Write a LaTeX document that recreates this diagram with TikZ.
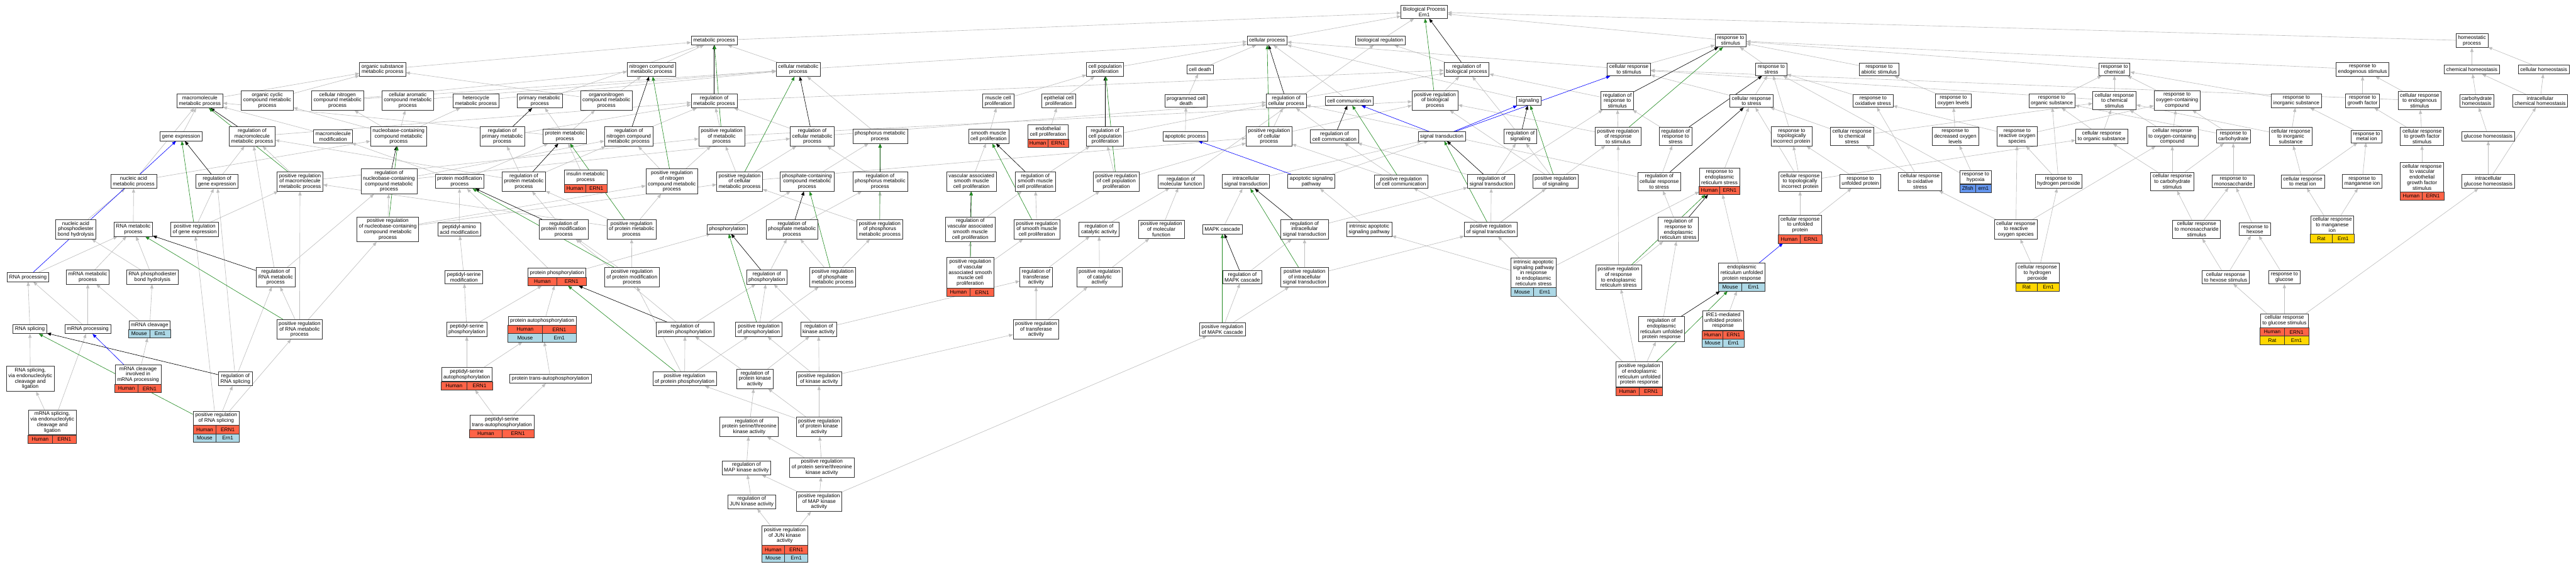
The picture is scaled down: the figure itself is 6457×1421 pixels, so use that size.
\documentclass[tikz,border=0pt]{standalone}
\usepackage{fontspec}
\setmainfont{Liberation Sans}
\usetikzlibrary{arrows.meta,calc,fit,backgrounds}
\definecolor{human}{RGB}{255,99,71}
\definecolor{mouse}{RGB}{173,216,230}
\definecolor{rat}{RGB}{255,215,0}
\definecolor{zfish}{RGB}{100,149,237}
\definecolor{isagray}{RGB}{190,190,190}
\definecolor{posgreen}{RGB}{34,139,34}
\tikzset{
  term/.style={draw=black!80,line width=1.1pt,fill=white,align=center,inner xsep=5pt,inner ysep=4.6pt,minimum height=22.5pt},
  cell/.style={draw=black!80,line width=1.1pt,inner sep=0pt,outer sep=0pt,minimum height=21pt},
  hull/.style={inner sep=0pt,outer sep=0pt},
  isaedge/.style={draw=isagray,line width=1pt,-{Triangle[length=10pt,width=8pt]}},
  regedge/.style={isaedge,draw=black},
  posedge/.style={isaedge,draw=posgreen},
  partedge/.style={isaedge,draw=blue}
}
\newcommand\genes[5]{%
  \path let \p1=($(#1.east)-(#1.west)$) in
    node[cell,fill=#3,minimum width=0.5*\x1,anchor=north west] (#1#2a) at ([yshift=-(#2-1)*21pt]#1.south west) {#4}
    node[cell,fill=#3,minimum width=0.5*\x1,anchor=north east] (#1#2b) at ([yshift=-(#2-1)*21pt]#1.south east) {#5};}
\begin{document}
\begin{tikzpicture}[x=1pt,y=-1pt,font=\fontsize{13}{13.8}\selectfont]
\useasboundingbox (0,0) rectangle (6457,1421);
\node[term] (root) at (3570,30) {Biological Process\\Ern1};
\node[term] (mp) at (1790,101.5) {metabolic process};
\node[term] (cp) at (3176,101.5) {cellular process};
\node[term] (breg) at (3460,101.5) {biological regulation};
\node[term] (rs) at (4338,102) {response to\\stimulus};
\node[term] (hp) at (6196,102) {homeostatic\\process};
\node[term] (osmp) at (959,174) {organic substance\\metabolic process};
\node[term] (ncmp) at (1633,174) {nitrogen compound\\metabolic process};
\node[term] (cmp) at (2001,174) {cellular metabolic\\process};
\node[term] (cpp) at (2770,174) {cell population\\proliferation};
\node[term] (cd) at (3008,174) {cell death};
\node[term] (rbp) at (3676,174) {regulation of\\biological process};
\node[term] (crs) at (4083,174) {cellular response\\to stimulus};
\node[term] (rst) at (4440,174) {response to\\stress};
\node[term] (ras) at (4710,174) {response to\\abiotic stimulus};
\node[term] (rch) at (5300,174) {response to\\chemical};
\node[term] (res) at (5922,174) {response to\\endogenous stimulus};
\node[term] (chh) at (6196,174) {chemical homeostasis};
\node[term] (ch) at (6376,174) {cellular homeostasis};
\node[term] (mmp) at (501,253) {macromolecule\\metabolic process};
\node[term] (occmp) at (670,252) {organic cyclic\\compound metabolic\\process};
\node[term] (cncmp) at (846,252) {cellular nitrogen\\compound metabolic\\process};
\node[term] (cacmp) at (1022,252) {cellular aromatic\\compound metabolic\\process};
\node[term] (hmp) at (1193,253) {heterocycle\\metabolic process};
\node[term] (pmp) at (1353,253) {primary metabolic\\process};
\node[term] (oncmp) at (1520,252) {organonitrogen\\compound metabolic\\process};
\node[term] (rmp) at (1790,253) {regulation of\\metabolic process};
\node[term] (mcp) at (2502,253) {muscle cell\\proliferation};
\node[term] (ecp) at (2654,253) {epithelial cell\\proliferation};
\node[term] (pcd) at (2973,253) {programmed cell\\death};
\node[term] (rcp) at (3224,253) {regulation of\\cellular process};
\node[term] (ccom) at (3382,253) {cell communication};
\node[term] (prbp) at (3597,252) {positive regulation\\of biological\\process};
\node[term] (sig) at (3832,253) {signaling};
\node[term] (rrs) at (4054,252) {regulation of\\response to\\stimulus};
\node[term] (crst) at (4390,253) {cellular response\\to stress};
\node[term] (ros) at (4695,253) {response to\\oxidative stress};
\node[term] (rol) at (4896,253) {response to\\oxygen levels};
\node[term] (rorg) at (5143,253) {response to\\organic substance};
\node[term] (crch) at (5300,252) {cellular response\\to chemical\\stimulus};
\node[term] (rocc) at (5457,252) {response to\\oxygen-containing\\compound};
\node[term] (ris) at (5756,253) {response to\\inorganic substance};
\node[term] (rgf) at (5922,253) {response to\\growth factor};
\node[term] (cres) at (6065,252) {cellular response\\to endogenous\\stimulus};
\node[term] (carbh) at (6208,253) {carbohydrate\\homeostasis};
\node[term] (ichh) at (6367,253) {intracellular\\chemical homeostasis};
\node[term] (ge) at (454,342) {gene expression};
\node[term] (rmmp) at (632,342) {regulation of\\macromolecule\\metabolic process};
\node[term] (mm) at (835,342) {macromolecule\\modification};
\node[term] (nbmp) at (999,342) {nucleobase-containing\\compound metabolic\\process};
\node[term] (rpmp) at (1259,342) {regulation of\\primary metabolic\\process};
\node[term] (prmp) at (1416,342) {protein metabolic\\process};
\node[term] (rncmp) at (1576,342) {regulation of\\nitrogen compound\\metabolic process};
\node[term] (prmetp) at (1809,342) {positive regulation\\of metabolic\\process};
\node[term] (rcmp) at (2036,342) {regulation of\\cellular metabolic\\process};
\node[term] (phmp) at (2206,342) {phosphorus metabolic\\process};
\node[term] (smcp) at (2478,342) {smooth muscle\\cell proliferation};
\node[term] (endcpT) at (2627,331) {endothelial\\cell proliferation};
\genes{endcpT}{1}{human}{Human}{ERN1}
\node[hull,fit=(endcpT)(endcpT1b)] (endcp) {};
\node[term] (rcpp) at (2770,342) {regulation of\\cell population\\proliferation};
\node[term] (ap) at (2971,342) {apoptotic process};
\node[term] (prcp) at (3181,342) {positive regulation\\of cellular\\process};
\node[term] (rccom) at (3345,342) {regulation of\\cell communication};
\node[term] (st) at (3614,342) {signal transduction};
\node[term] (rsig) at (3811,342) {regulation of\\signaling};
\node[term] (prrs) at (4056,342) {positive regulation\\of response\\to stimulus};
\node[term] (rrst) at (4200,342) {regulation of\\response to\\stress};
\node[term] (rtip) at (4491,342) {response to\\topologically\\incorrect protein};
\node[term] (crcs) at (4642,342) {cellular response\\to chemical\\stress};
\node[term] (rdol) at (4901,342) {response to\\decreased oxygen\\levels};
\node[term] (rros) at (5056,342) {response to\\reactive oxygen\\species};
\node[term] (cros) at (5268,342) {cellular response\\to organic substance};
\node[term] (croc) at (5445,342) {cellular response\\to oxygen-containing\\compound};
\node[term] (rcarb) at (5598,342) {response to\\carbohydrate};
\node[term] (cris) at (5742,342) {cellular response\\to inorganic\\substance};
\node[term] (rmi) at (5932,342) {response to\\metal ion};
\node[term] (crgf) at (6071,342) {cellular response\\to growth factor\\stimulus};
\node[term] (gh) at (6237,342) {glucose homeostasis};
\node[term] (namp) at (335,455) {nucleic acid\\metabolic process};
\node[term] (rge) at (544,455) {regulation of\\gene expression};
\node[term] (prmmp) at (752,455) {positive regulation\\of macromolecule\\metabolic process};
\node[term] (rnbmp) at (975,455) {regulation of\\nucleobase-containing\\compound metabolic\\process};
\node[term] (pmod) at (1152,455) {protein modification\\process};
\node[term] (rprmp) at (1313,455) {regulation of\\protein metabolic\\process};
\node[term] (insmT) at (1468,444.5) {insulin metabolic\\process};
\genes{insmT}{1}{human}{Human}{ERN1}
\node[hull,fit=(insmT)(insmT1b)] (insm) {};
\node[term] (prncmp) at (1684,455) {positive regulation\\of nitrogen\\compound metabolic\\process};
\node[term] (prcmp) at (1854,455) {positive regulation\\of cellular\\metabolic process};
\node[term] (pccmp) at (2023,455) {phosphate-containing\\compound metabolic\\process};
\node[term] (rphmp) at (2206,455) {regulation of\\phosphorus metabolic\\process};
\node[term] (vsmcp) at (2435,455) {vascular associated\\smooth muscle\\cell proliferation};
\node[term] (rsmcp) at (2595,455) {regulation of\\smooth muscle\\cell proliferation};
\node[term] (prcpp) at (2798,455) {positive regulation\\of cell population\\proliferation};
\node[term] (rmf) at (2960,455) {regulation of\\molecular function};
\node[term] (ist) at (3123,455) {intracellular\\signal transduction};
\node[term] (asp) at (3287,455) {apoptotic signaling\\pathway};
\node[term] (prccom) at (3512,455) {positive regulation\\of cell communication};
\node[term] (rsigt) at (3738,455) {regulation of\\signal transduction};
\node[term] (prsig) at (3899,455) {positive regulation\\of signaling};
\node[term] (rcrst) at (4159,455) {regulation of\\cellular response\\to stress};
\node[term] (rersT) at (4310,444) {response to\\endoplasmic\\reticulum stress};
\genes{rersT}{1}{human}{Human}{ERN1}
\node[hull,fit=(rersT)(rersT1b)] (rers) {};
\node[term] (ctip) at (4512,455) {cellular response\\to topologically\\incorrect protein};
\node[term] (rup) at (4663,455) {response to\\unfolded protein};
\node[term] (crox) at (4813,455) {cellular response\\to oxidative\\stress};
\node[term] (rhypT) at (4952,444.5) {response to\\hypoxia};
\genes{rhypT}{1}{zfish}{Zfish}{ern1}
\node[hull,fit=(rhypT)(rhypT1b)] (rhyp) {};
\node[term] (rhp) at (5160,455) {response to\\hydrogen peroxide};
\node[term] (crcarb) at (5445,455) {cellular response\\to carbohydrate\\stimulus};
\node[term] (rmono) at (5598,455) {response to\\monosaccharide};
\node[term] (crmi) at (5772,455) {cellular response\\to metal ion};
\node[term] (rmn) at (5921,455) {response to\\manganese ion};
\node[term] (crvegfT) at (6071,444) {cellular response\\to vascular\\endothelial\\growth factor\\stimulus};
\genes{crvegfT}{1}{human}{Human}{ERN1}
\node[hull,fit=(crvegfT)(crvegfT1b)] (crvegf) {};
\node[term] (igh) at (6237,455) {intracellular\\glucose homeostasis};
\node[term] (napb) at (190,575) {nucleic acid\\phosphodiester\\bond hydrolysis};
\node[term] (rnamp) at (334,575) {RNA metabolic\\process};
\node[term] (prge) at (488,575) {positive regulation\\of gene expression};
\node[term] (prnbmp) at (972,575) {positive regulation\\of nucleobase-containing\\compound metabolic\\process};
\node[term] (paam) at (1151,575) {peptidyl-amino\\acid modification};
\node[term] (rpmod) at (1413,575) {regulation of\\protein modification\\process};
\node[term] (prprmp) at (1583,575) {positive regulation\\of protein metabolic\\process};
\node[term] (phos) at (1823,575) {phosphorylation};
\node[term] (rphamp) at (1985,575) {regulation of\\phosphate metabolic\\process};
\node[term] (prphmp) at (2205,575) {positive regulation\\of phosphorus\\metabolic process};
\node[term] (rvsmcp) at (2432,575) {regulation of\\vascular associated\\smooth muscle\\cell proliferation};
\node[term] (prsmcp) at (2599,575) {positive regulation\\of smooth muscle\\cell proliferation};
\node[term] (rca) at (2755,575) {regulation of\\catalytic activity};
\node[term] (prmf) at (2911,575) {positive regulation\\of molecular\\function};
\node[term] (mapk) at (3064,575) {MAPK cascade};
\node[term] (rist) at (3270,575) {regulation of\\intracellular\\signal transduction};
\node[term] (iasp) at (3432,575) {intrinsic apoptotic\\signaling pathway};
\node[term] (prsigt) at (3737,575) {positive regulation\\of signal transduction};
\node[term] (rrers) at (4207,575) {regulation of\\response to\\endoplasmic\\reticulum stress};
\node[term] (cupT) at (4512,564) {cellular response\\to unfolded\\protein};
\genes{cupT}{1}{human}{Human}{ERN1}
\node[hull,fit=(cupT)(cupT1b)] (cup) {};
\node[term] (crros) at (5053,575) {cellular response\\to reactive\\oxygen species};
\node[term] (crmono) at (5506,575) {cellular response\\to monosaccharide\\stimulus};
\node[term] (rhex) at (5652,575) {response to\\hexose};
\node[term] (crmnT) at (5846,564) {cellular response\\to manganese\\ion};
\genes{crmnT}{1}{rat}{Rat}{Ern1}
\node[hull,fit=(crmnT)(crmnT1b)] (crmn) {};
\node[term] (rnap) at (70,695) {RNA processing};
\node[term] (mrnamp) at (220,695) {mRNA metabolic\\process};
\node[term] (rnapb) at (382,695) {RNA phosphodiester\\bond hydrolysis};
\node[term] (rrnamp) at (691,695) {regulation of\\RNA metabolic\\process};
\node[term] (psm) at (1163,695) {peptidyl-serine\\modification};
\node[term] (pphosT) at (1396,684) {protein phosphorylation};
\genes{pphosT}{1}{human}{Human}{ERN1}
\node[hull,fit=(pphosT)(pphosT1b)] (pphos) {};
\node[term] (prpmod) at (1584,695) {positive regulation\\of protein modification\\process};
\node[term] (rphos) at (1922,695) {regulation of\\phosphorylation};
\node[term] (prphamp) at (2087,695) {positive regulation\\of phosphate\\metabolic process};
\node[term] (prvsmcpT) at (2432,684) {positive regulation\\of vascular\\associated smooth\\muscle cell\\proliferation};
\genes{prvsmcpT}{1}{human}{Human}{ERN1}
\node[hull,fit=(prvsmcpT)(prvsmcpT1b)] (prvsmcp) {};
\node[term] (rta) at (2597,695) {regulation of\\transferase\\activity};
\node[term] (prca) at (2756,695) {positive regulation\\of catalytic\\activity};
\node[term] (rmapk) at (3114,695) {regulation of\\MAPK cascade};
\node[term] (prist) at (3270,695) {positive regulation\\of intracellular\\signal transduction};
\node[term] (iaspersT) at (3844,684) {intrinsic apoptotic\\signaling pathway\\in response\\to endoplasmic\\reticulum stress};
\genes{iaspersT}{1}{mouse}{Mouse}{Ern1}
\node[hull,fit=(iaspersT)(iaspersT1b)] (iaspers) {};
\node[term] (prrers) at (4057,695) {positive regulation\\of response\\to endoplasmic\\reticulum stress};
\node[term] (eruprT) at (4366,684.5) {endoplasmic\\reticulum unfolded\\protein response};
\genes{eruprT}{1}{mouse}{Mouse}{Ern1}
\node[hull,fit=(eruprT)(eruprT1b)] (erupr) {};
\node[term] (crhpT) at (5107,684.5) {cellular response\\to hydrogen\\peroxide};
\genes{crhpT}{1}{rat}{Rat}{Ern1}
\node[hull,fit=(crhpT)(crhpT1b)] (crhp) {};
\node[term] (crhex) at (5579,695) {cellular response\\to hexose stimulus};
\node[term] (rglc) at (5726,695) {response to\\glucose};
\node[term] (rsplice) at (75,825.5) {RNA splicing};
\node[term] (mrnap) at (220,825.5) {mRNA processing};
\node[term] (mrnacT) at (375,815) {mRNA cleavage};
\genes{mrnacT}{1}{mouse}{Mouse}{Ern1}
\node[hull,fit=(mrnacT)(mrnacT1b)] (mrnac) {};
\node[term] (prrnamp) at (751,826) {positive regulation\\of RNA metabolic\\process};
\node[term] (psphos) at (1170,826) {peptidyl-serine\\phosphorylation};
\node[term] (papT) at (1359,804) {protein autophosphorylation};
\genes{papT}{1}{human}{Human}{ERN1}
\genes{papT}{2}{mouse}{Mouse}{Ern1}
\node[hull,fit=(papT)(papT2b)] (pap) {};
\node[term] (rpphos) at (1717,826) {regulation of\\protein phosphorylation};
\node[term] (prphos) at (1902,826) {positive regulation\\of phosphorylation};
\node[term] (rka) at (2052,826) {regulation of\\kinase activity};
\node[term] (prta) at (2597,826) {positive regulation\\of transferase\\activity};
\node[term] (prmapk) at (3064,826) {positive regulation\\of MAPK cascade};
\node[term] (rerupr) at (4164.5,825.5) {regulation of\\endoplasmic\\reticulum unfolded\\protein response};
\node[term] (ireT) at (4319,804) {IRE1-mediated\\unfolded protein\\response};
\genes{ireT}{1}{human}{Human}{ERN1}
\genes{ireT}{2}{mouse}{Mouse}{Ern1}
\node[hull,fit=(ireT)(ireT2b)] (ire) {};
\node[term] (crglcT) at (5726,804) {cellular response\\to glucose stimulus};
\genes{crglcT}{1}{human}{Human}{ERN1}
\genes{crglcT}{2}{rat}{Rat}{Ern1}
\node[hull,fit=(crglcT)(crglcT2b)] (crglc) {};
\node[term] (rsel) at (76,950) {RNA splicing,\\via endonucleolytic\\cleavage and\\ligation};
\node[term] (mcimpT) at (346,939) {mRNA cleavage\\involved in\\mRNA processing};
\genes{mcimpT}{1}{human}{Human}{ERN1}
\node[hull,fit=(mcimpT)(mcimpT1b)] (mcimp) {};
\node[term] (rrsplice) at (590,950) {regulation of\\RNA splicing};
\node[term] (psapT) at (1170,939) {peptidyl-serine\\autophosphorylation};
\genes{psapT}{1}{human}{Human}{ERN1}
\node[hull,fit=(psapT)(psapT1b)] (psap) {};
\node[term] (ptap) at (1380,950) {protein trans-autophosphorylation};
\node[term] (prpphos) at (1716,950) {positive regulation\\of protein phosphorylation};
\node[term] (rpka) at (1892,950) {regulation of\\protein kinase\\activity};
\node[term] (prka) at (2053,950) {positive regulation\\of kinase activity};
\node[term] (preruprT) at (4109,939) {positive regulation\\of endoplasmic\\reticulum unfolded\\protein response};
\genes{preruprT}{1}{human}{Human}{ERN1}
\node[hull,fit=(preruprT)(preruprT1b)] (prerupr) {};
\node[term] (mselT) at (131,1059) {mRNA splicing,\\via endonucleolytic\\cleavage and\\ligation};
\genes{mselT}{1}{human}{Human}{ERN1}
\node[hull,fit=(mselT)(mselT1b)] (msel) {};
\node[term] (prrspliceT) at (542,1048.5) {positive regulation\\of RNA splicing};
\genes{prrspliceT}{1}{human}{Human}{ERN1}
\genes{prrspliceT}{2}{mouse}{Mouse}{Ern1}
\node[hull,fit=(prrspliceT)(prrspliceT2b)] (prrsplice) {};
\node[term] (pstapT) at (1258,1059) {peptidyl-serine\\trans-autophosphorylation};
\genes{pstapT}{1}{human}{Human}{ERN1}
\node[hull,fit=(pstapT)(pstapT1b)] (pstap) {};
\node[term] (rpstka) at (1878,1070) {regulation of\\protein serine/threonine\\kinase activity};
\node[term] (prpka) at (2053,1070) {positive regulation\\of protein kinase\\activity};
\node[term] (rmapka) at (1871,1173) {regulation of\\MAP kinase activity};
\node[term] (prpstka) at (2060,1172) {positive regulation\\of protein serine/threonine\\kinase activity};
\node[term] (rjnk) at (1884,1258) {regulation of\\JUN kinase activity};
\node[term] (prmapka) at (2053,1258) {positive regulation\\of MAP kinase\\activity};
\node[term] (prjnkT) at (1967,1343) {positive regulation\\of JUN kinase\\activity};
\genes{prjnkT}{1}{human}{Human}{ERN1}
\genes{prjnkT}{2}{mouse}{Mouse}{Ern1}
\node[hull,fit=(prjnkT)(prjnkT2b)] (prjnk) {};
\begin{scope}[on background layer]
\fill[white] (0,0) rectangle (6457,1421);
\foreach \a/\b in {mp/root,cp/root,breg/root,rs/root,hp/root,
  osmp/mp,ncmp/mp,cmp/mp,cmp/cp,pmp/mp,cpp/cp,cd/cp,rbp/breg,crs/cp,crs/rs,rst/rs,ras/rs,rch/rs,res/rs,chh/hp,ch/hp,
  mmp/osmp,occmp/osmp,cncmp/ncmp,cncmp/cmp,cacmp/cmp,hmp/cmp,oncmp/ncmp,oncmp/osmp,rmp/rbp,mcp/cpp,ecp/cpp,pcd/cd,rcp/rbp,ccom/cp,prbp/rbp,sig/cp,rrs/rbp,
  crst/rst,crst/crs,ros/rst,rol/ras,rorg/rch,crch/rch,crch/crs,rocc/rch,ris/rch,rgf/res,cres/res,cres/crs,carbh/chh,ichh/chh,ichh/ch,
  ge/mmp,mm/mmp,nbmp/occmp,nbmp/cncmp,nbmp/cacmp,nbmp/hmp,rmmp/rmp,rpmp/rmp,prmp/pmp,prmp/oncmp,prmp/mmp,rncmp/rmp,prmetp/rmp,prmetp/prbp,rcmp/rmp,rcmp/rcp,phmp/cmp,
  smcp/mcp,endcp/ecp,rcpp/rcp,ap/pcd,prcp/rcp,prcp/prbp,rccom/rcp,rsig/rbp,prrs/rrs,prrs/prbp,rrst/rrs,rtip/rst,crcs/crst,crcs/crch,rdol/rol,rros/ros,rros/rocc,
  cros/rorg,cros/crch,croc/rocc,croc/crch,rcarb/rocc,rcarb/rorg,cris/ris,cris/crch,rmi/ris,crgf/rgf,crgf/cres,gh/carbh,
  namp/nbmp,namp/mmp,rge/rmmp,prmmp/rmmp,prmmp/prmetp,rnbmp/rcmp,rnbmp/rncmp,pmod/prmp,pmod/mm,rprmp/rpmp,rprmp/rmmp,rprmp/rncmp,insm/prmp,
  prncmp/rncmp,prncmp/prmetp,prcmp/prmetp,prcmp/rcmp,prcmp/prcp,pccmp/phmp,rphmp/rcmp,vsmcp/smcp,rsmcp/rcpp,prcpp/rcpp,prcpp/prcp,rmf/breg,ist/st,asp/st,
  prccom/rccom,prccom/prcp,rsigt/rsig,rsigt/rccom,rsigt/rrs,prsig/rsig,prsig/prbp,rcrst/rrst,rcrst/rcp,rers/crst,ctip/rtip,ctip/crst,ctip/cros,rup/rtip,
  crox/ros,crox/crcs,rhyp/rdol,rhyp/rst,rhp/rros,rhp/rorg,crcarb/rcarb,crcarb/croc,crcarb/cros,rmono/rcarb,crmi/rmi,crmi/cris,rmn/rmi,crvegf/crgf,igh/gh,igh/ichh,
  rnamp/namp,napb/namp,prge/rge,prge/prmmp,prnbmp/rnbmp,prnbmp/prcmp,prnbmp/prncmp,paam/pmod,rpmod/rprmp,prprmp/rprmp,prprmp/prncmp,prprmp/prmmp,phos/pccmp,
  rphamp/rphmp,prphmp/rphmp,prphmp/prcmp,rvsmcp/rsmcp,prsmcp/rsmcp,prsmcp/prcpp,rca/rmf,prmf/rmf,mapk/ist,rist/rsigt,iasp/asp,prsigt/rsigt,prsigt/prsig,
  prsigt/prccom,prsigt/prrs,rrers/rcrst,cup/ctip,cup/rup,crros/rros,crros/crox,crros/croc,crmono/crcarb,crmono/rmono,rhex/rmono,crmn/crmi,crmn/rmn,
  rnap/rnamp,mrnamp/rnamp,rnapb/rnamp,rnapb/napb,rrnamp/rnbmp,rrnamp/rmmp,psm/paam,pphos/phos,pphos/pmod,prpmod/rpmod,prpmod/prprmp,rphos/rphamp,
  prphamp/rphamp,prphamp/prphmp,prvsmcp/rvsmcp,prvsmcp/prsmcp,rta/rca,prca/rca,prca/prmf,rmapk/rist,prist/rist,prist/prsigt,iaspers/iasp,iaspers/rers,
  prrers/rrers,prrers/prrs,erupr/rers,crhp/rhp,crhp/crros,crhex/crmono,crhex/rhex,rglc/rhex,
  rsplice/rnap,mrnap/rnap,mrnap/mrnamp,mrnac/mrnamp,mrnac/rnapb,prrnamp/rrnamp,prrnamp/prnbmp,prrnamp/prmmp,psphos/psm,psphos/pphos,pap/pphos,
  rpphos/rpmod,rpphos/rphos,prphos/rphos,prphos/prphamp,rka/rphos,rka/rta,prta/rta,prta/prca,prmapk/rmapk,prmapk/prist,rerupr/rrers,ire/erupr,
  crglc/crhex,crglc/rglc,crglc/igh,rsel/rsplice,mcimp/mrnac,rrsplice/rrnamp,rrsplice/rge,psap/psphos,psap/pap,ptap/pap,prpphos/rpphos,prpphos/prphos,
  prpphos/prpmod,rpka/rka,rpka/rpphos,prka/rka,prka/prphos,prka/prta,prerupr/rerupr,prerupr/prrers,prerupr/prsigt,msel/rsel,msel/mrnap,
  prrsplice/rrsplice,prrsplice/prrnamp,prrsplice/prge,pstap/psap,pstap/ptap,rpstka/rpka,prpka/rpka,prpka/prka,prpka/prpphos,
  rmapka/rpstka,prpstka/rpstka,prpstka/prpka,rjnk/rmapka,prmapka/rmapka,prmapka/prpstka,prmapka/prmapk,prjnk/rjnk,prjnk/prmapka}
  \draw[isaedge] (\a) -- (\b);
\foreach \a/\b in {rbp/root,rmp/mp,rcp/cp,rmmp/mmp,rge/ge,rnbmp/nbmp,rpmp/pmp,rncmp/ncmp,rcmp/cmp,rphmp/phmp,rcpp/cpp,rccom/ccom,
  rsig/sig,rrs/rs,rrst/rst,rprmp/prmp,rphamp/pccmp,rsmcp/smcp,rsigt/st,rcrst/crst,rvsmcp/vsmcp,rist/ist,rrers/rers,rpmod/pmod,
  rphos/phos,rmapk/mapk,rrnamp/rnamp,rpphos/pphos,rerupr/erupr,rrsplice/rsplice}
  \draw[regedge] (\a) -- (\b);
\foreach \a/\b in {prbp/root,prmetp/mp,prcp/cp,prmmp/mmp,prge/ge,prnbmp/nbmp,prncmp/ncmp,prcmp/cmp,prphmp/phmp,prcpp/cpp,prccom/ccom,
  prsig/sig,prrs/rs,prprmp/prmp,prphamp/pccmp,prsmcp/smcp,prsigt/st,prvsmcp/vsmcp,prist/ist,prrers/rers,prpmod/pmod,prphos/phos,
  prmapk/mapk,prrnamp/rnamp,prpphos/pphos,prerupr/erupr,prrsplice/rsplice}
  \draw[posedge] (\a) -- (\b);
\foreach \a/\b in {rnap/ge,mcimp/mrnap,st/crs,st/ccom,st/sig,asp/ap,erupr/cup}
  \draw[partedge] (\a) -- (\b);
\end{scope}
\end{tikzpicture}
\end{document}
